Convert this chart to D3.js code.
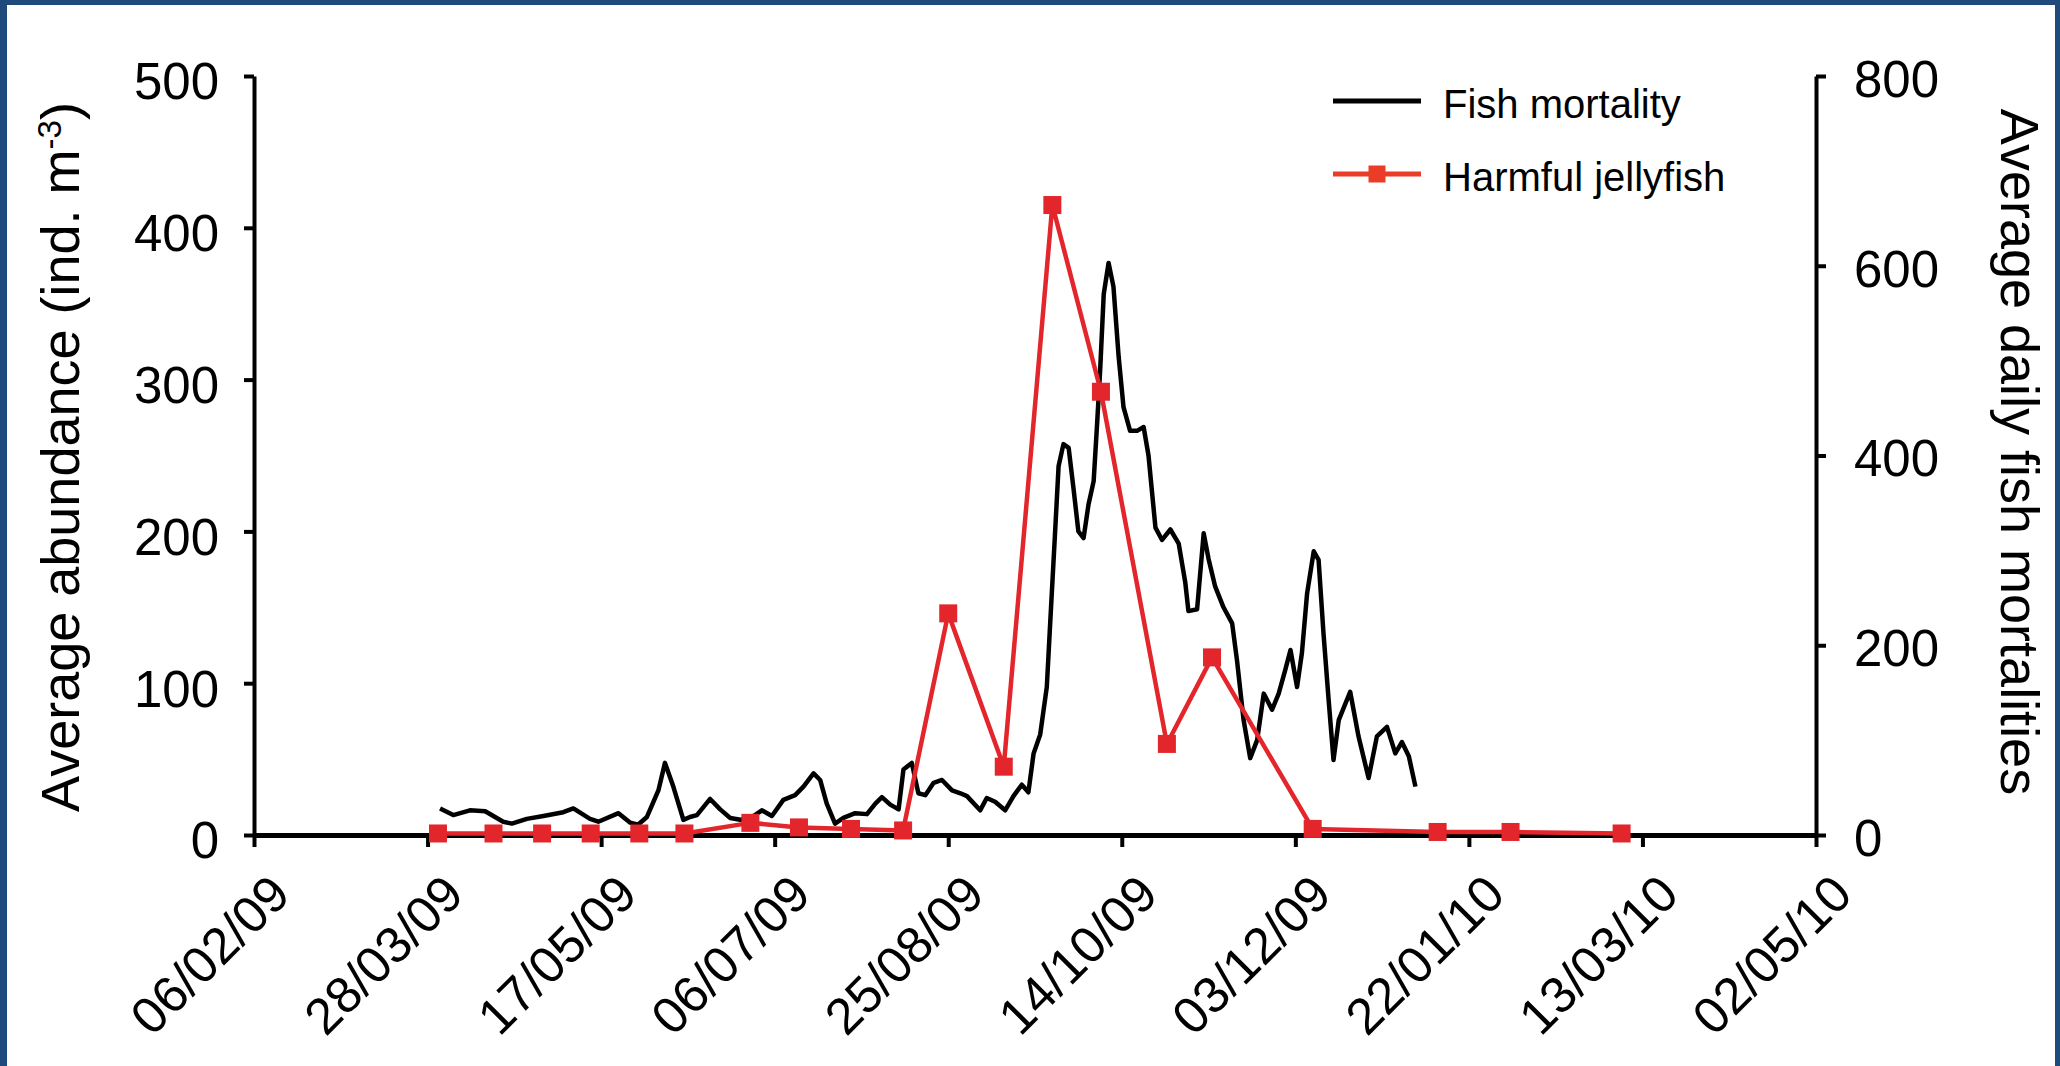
<!DOCTYPE html>
<html>
<head>
<meta charset="utf-8">
<script src="https://cdn.jsdelivr.net/npm/d3@7"></script>
<style>
  body { margin: 0; background: #fff; }
  svg { display: block; font-family: "Liberation Sans", Arial, sans-serif; }
</style>
</head>
<body>
<svg id="chart" width="2060" height="1066"></svg>
<script>

// x axis tick labels (every 50 days)
var tickLabels = ["06/02/09", "28/03/09", "17/05/09", "06/07/09", "25/08/09",
    "14/10/09", "03/12/09", "22/01/10", "13/03/10", "02/05/10"];
var leftTicks = [0, 100, 200, 300, 400, 500];
var rightTicks = [0, 200, 400, 600, 800];

// harmful jellyfish, average abundance (ind. m-3), left axis
var jellyDates = ["31/03/09", "16/04/09", "30/04/09", "14/05/09", "28/05/09", "10/06/09",
    "29/06/09", "13/07/09", "28/07/09", "12/08/09", "25/08/09", "10/09/09", "24/09/09",
    "08/10/09", "27/10/09", "09/11/09", "08/12/09", "13/01/10", "03/02/10", "07/03/10"];
var jellyAbundance = [1, 1, 1, 1, 1, 1, 8, 5, 4, 3, 146, 45, 415, 292, 60, 117, 4, 2, 2, 1];

// fish mortality, average daily mortalities (right axis)
// [days since 06/02/09, value]
var fishStart = "06/02/09";
var fishMortality = [
    [53.6, 28], [57.4, 21], [62.2, 26], [66.6, 25], [71.8, 14], [74.3, 12], [78.6, 17],
    [83.4, 20], [89.1, 24], [92.0, 28], [96.8, 17], [99.2, 14], [105.0, 23], [108.4, 13],
    [110.7, 11], [113.2, 19], [116.5, 47], [118.4, 76], [120.8, 51], [123.7, 16], [125.6, 19],
    [127.6, 21], [131.4, 38], [134.3, 27], [137.2, 18], [140.1, 16], [143.9, 20], [146.3, 26],
    [149.2, 20], [152.5, 37], [155.9, 42], [158.3, 51], [161.2, 65], [163.1, 58], [165.0, 33],
    [167.4, 12], [169.8, 18], [173.2, 23], [176.6, 22], [179.0, 33], [180.9, 40], [183.3, 32],
    [185.7, 27], [187.1, 69], [189.5, 76], [191.4, 44], [193.4, 42], [195.8, 55], [198.2, 58],
    [201.1, 47], [203.5, 44], [205.4, 41], [209.2, 26], [211.1, 39], [213.5, 35], [216.4, 26],
    [218.8, 41], [221.2, 53], [223.1, 45], [224.6, 86], [226.5, 106], [228.4, 156], [229.4, 225],
    [230.8, 320], [231.8, 389], [233.2, 412], [234.7, 408], [236.1, 365], [237.5, 320],
    [239.0, 313], [240.4, 348], [241.9, 373], [242.9, 434], [243.8, 492], [244.8, 570],
    [246.2, 603], [247.6, 578], [249.1, 504], [250.5, 451], [252.4, 426], [254.4, 426],
    [256.3, 430], [257.7, 400], [259.7, 324], [261.6, 311], [264.0, 322], [266.4, 307],
    [268.3, 266], [269.2, 236], [271.7, 238], [273.6, 318], [275.0, 291], [276.9, 262],
    [279.3, 240], [281.8, 223], [283.2, 184], [285.1, 121], [287.0, 81], [289.0, 100],
    [290.9, 149], [293.3, 132], [295.2, 149], [297.1, 174], [298.6, 195], [300.5, 156],
    [301.9, 192], [303.4, 255], [305.3, 299], [306.7, 290], [308.1, 213], [309.6, 142],
    [311.0, 79], [312.5, 121], [315.8, 151], [318.2, 104], [321.1, 60], [323.5, 104],
    [326.4, 114], [328.8, 86], [330.7, 98], [332.7, 83], [334.6, 51]
];

var legendNames = ["Fish mortality", "Harmful jellyfish"];

var width = 2060, height = 1066;
var plot = {left: 254, right: 1816, top: 76, bottom: 835};
var red = "#e3262b";
var blue = "#1f4a7c";

var parseDate = d3.utcParse("%d/%m/%y");
var formatDate = d3.utcFormat("%d/%m/%y");
var startDate = parseDate(fishStart);

var svg = d3.select("#chart");

svg.append("rect").attr("width", width).attr("height", height).attr("fill", "#fff");
// frame
svg.append("rect").attr("x", 0).attr("y", 0).attr("width", width).attr("height", 5).attr("fill", blue);
svg.append("rect").attr("x", 0).attr("y", 0).attr("width", 7).attr("height", height).attr("fill", blue);
svg.append("rect").attr("x", width - 5).attr("y", 0).attr("width", 5).attr("height", height).attr("fill", blue);

var x = d3.scaleUtc()
    .domain([parseDate(tickLabels[0]), parseDate(tickLabels[tickLabels.length - 1])])
    .range([plot.left, plot.right]);
var yLeft = d3.scaleLinear().domain([0, 500]).range([plot.bottom, plot.top]);
var yRight = d3.scaleLinear().domain([0, 800]).range([plot.bottom, plot.top]);

function styleAxis(g, fontSize) {
    g.attr("font-family", null).attr("font-size", fontSize);
    g.select(".domain").attr("stroke", "#000").attr("stroke-width", 4);
    g.selectAll(".tick line").attr("stroke", "#000").attr("stroke-width", 4);
    g.selectAll(".tick text").attr("fill", "#000");
}

// left axis
var axisL = svg.append("g")
    .attr("transform", "translate(" + plot.left + ",0)")
    .call(d3.axisLeft(yLeft).tickValues(leftTicks).tickSize(10).tickSizeOuter(0).tickPadding(25));
styleAxis(axisL, 51);
axisL.selectAll(".tick text").attr("dy", "0.45em");

// right axis
var axisR = svg.append("g")
    .attr("transform", "translate(" + plot.right + ",0)")
    .call(d3.axisRight(yRight).tickValues(rightTicks).tickSize(10).tickSizeOuter(0).tickPadding(28));
styleAxis(axisR, 51);
axisR.selectAll(".tick text").attr("dy", "0.4em");

// bottom axis
var axisX = svg.append("g")
    .attr("transform", "translate(0," + plot.bottom + ")")
    .call(d3.axisBottom(x).tickValues(tickLabels.map(parseDate)).tickFormat(formatDate)
        .tickSize(12).tickSizeOuter(0));
styleAxis(axisX, 51);
axisX.select(".domain").attr("stroke-width", 5);
axisX.selectAll(".tick text")
    .attr("x", 0).attr("y", 0).attr("dy", 0)
    .attr("text-anchor", "end")
    .attr("transform", "translate(38,62) rotate(-45)");

// fish mortality line
var fishLine = d3.line()
    .x(function (d) { return x(new Date(startDate.getTime() + d[0] * 864e5)); })
    .y(function (d) { return yRight(d[1]); });

svg.append("path")
    .datum(fishMortality)
    .attr("d", fishLine)
    .attr("fill", "none")
    .attr("stroke", "#000")
    .attr("stroke-width", 4.5)
    .attr("stroke-linejoin", "round");

// jellyfish line + markers
var jelly = jellyDates.map(function (d, i) {
    return {date: parseDate(d), value: jellyAbundance[i]};
});

var jellyLine = d3.line()
    .x(function (d) { return x(d.date); })
    .y(function (d) { return yLeft(d.value); });

svg.append("path")
    .datum(jelly)
    .attr("d", jellyLine)
    .attr("fill", "none")
    .attr("stroke", red)
    .attr("stroke-width", 4.5)
    .attr("stroke-linejoin", "round");

var markerSize = 18;
svg.append("g").selectAll("rect")
    .data(jelly)
    .enter().append("rect")
    .attr("x", function (d) { return x(d.date) - markerSize / 2; })
    .attr("y", function (d) { return yLeft(d.value) - markerSize / 2; })
    .attr("width", markerSize)
    .attr("height", markerSize)
    .attr("fill", red);

// axis titles
svg.append("text")
    .attr("transform", "translate(79,457) rotate(-90)")
    .attr("text-anchor", "middle")
    .attr("font-size", 54)
    .text("Average abundance (ind. m")
    .append("tspan").attr("baseline-shift", "super").attr("font-size", 33).text("-3")
    .select(function () { return this.parentNode; })
    .append("tspan").text(")");

svg.append("text")
    .attr("transform", "translate(2001,452) rotate(90)")
    .attr("text-anchor", "middle")
    .attr("font-size", 54)
    .text("Average daily fish mortalities");

// legend
var legend = svg.append("g").attr("transform", "translate(1333,0)");
legend.append("line")
    .attr("x1", 0).attr("x2", 88).attr("y1", 101).attr("y2", 101)
    .attr("stroke", "#000").attr("stroke-width", 5);
legend.append("line")
    .attr("x1", 0).attr("x2", 88).attr("y1", 174).attr("y2", 174)
    .attr("stroke", "#eb3c28").attr("stroke-width", 5);
legend.append("rect")
    .attr("x", 44 - 8.5).attr("y", 174 - 8.5).attr("width", 17).attr("height", 17)
    .attr("fill", "#eb3c28");
legend.selectAll("text.name")
    .data(legendNames)
    .enter().append("text")
    .attr("class", "name")
    .attr("x", 110)
    .attr("y", function (d, i) { return 118 + i * 73; })
    .attr("font-size", 40)
    .text(function (d) { return d; });

</script>
</body>
</html>
